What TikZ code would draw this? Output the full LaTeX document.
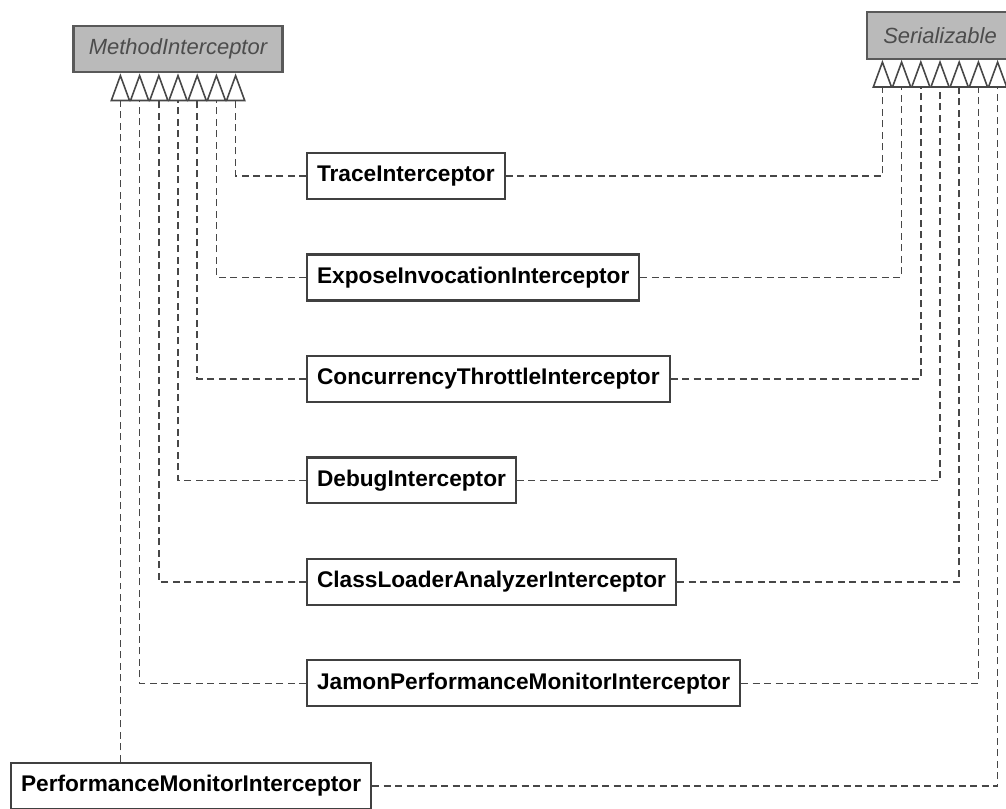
\documentclass[tikz,border=0pt]{standalone}
\usepackage{fontspec}
\setmainfont{Liberation Sans}
\usetikzlibrary{positioning, arrows.meta, calc}

\tikzset{
  cls/.style={draw=black!75, line width=1.2pt, fill=white, inner xsep=0.2cm, inner ysep=0pt,
    minimum height=0.92cm, font=\fontsize{12.9}{14}\selectfont\bfseries},
  iface/.style={draw=black!65, line width=1.2pt, fill=black!27, text=black!70, inner xsep=0pt,
    minimum height=0.93cm, font=\fontsize{12.5}{14}\selectfont\itshape},
  impl/.style={draw=black!72, line width=0.95pt, dash pattern=on 0.14cm off 0.09cm,
    -{Triangle[open, width=0.4cm, length=0.56cm, line width=0.9pt]}},
}

\begin{document}
\begin{tikzpicture}[x=0.02cm, y=-0.02cm, node distance=2.03cm]
        \useasboundingbox (0,0) rectangle (1006,808); %
        \clip (0,0) rectangle (1006,808); %
        % interfaces
        \node[iface, minimum width=4.18cm] (mi) at (178,49) {MethodInterceptor}; %
        \node[iface, minimum width=2.92cm] (ser) at (940,35.5) {Serializable}; %
        \foreach \i in {1,...,7} {
          \coordinate (mi\i) at ($(mi.south)+({(\i-4)*19.2},0)$); %
          \coordinate (ser\i) at ($(ser.south)+({(\i-4)*19.2},0)$); %
        }
        % interceptors
        \node[cls, anchor=west] (trace) at (306,176) {TraceInterceptor}; %
        \node[cls, below=of trace.west, anchor=west] (expose) {ExposeInvocationInterceptor}; %
        \node[cls, below=of expose.west, anchor=west] (throttle) {ConcurrencyThrottleInterceptor}; %
        \node[cls, below=of throttle.west, anchor=west] (debug) {DebugInterceptor}; %
        \node[cls, below=of debug.west, anchor=west] (loader) {ClassLoaderAnalyzerInterceptor}; %
        \node[cls, below=of loader.west, anchor=west] (jamon) {JamonPerformanceMonitorInterceptor}; %
        \node[cls, anchor=west] (perf) at (10,786) {PerformanceMonitorInterceptor}; %
        % realizations
        \foreach \c/\i/\j in {trace/7/1, expose/6/2, throttle/5/3, debug/4/4, loader/3/5, jamon/2/6} {
          \draw[impl] (\c.west) -| (mi\i); %
          \draw[impl] (\c.east) -| (ser\j); %
        }
        \draw[impl] (mi1 |- perf.north) -- (mi1); %
        \draw[impl] (perf.east) -| (ser7); %
    \end{tikzpicture}
\end{document}
